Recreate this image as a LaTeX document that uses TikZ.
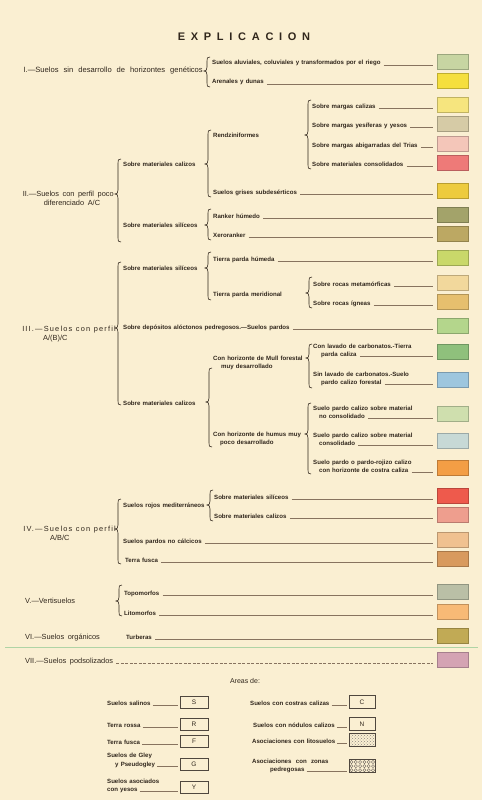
\documentclass[tikz,border=0pt]{standalone}
\usepackage{fontspec}
\setmainfont{Liberation Sans}
\newfontfamily\titlefam{Liberation Sans}[LetterSpace=52]
\newfontfamily\spacedfam{Liberation Sans}[LetterSpace=16]
\usetikzlibrary{calc,patterns}
\definecolor{bg}{RGB}{250,239,210}
\definecolor{ink}{RGB}{48,38,28}
\definecolor{ldrc}{RGB}{135,115,95}
\definecolor{c1}{HTML}{C7D5A2}
\definecolor{c2}{HTML}{F5DF3E}
\definecolor{c3}{HTML}{F6E57E}
\definecolor{c4}{HTML}{D6CBA6}
\definecolor{c5}{HTML}{F4C6B9}
\definecolor{c6}{HTML}{EE7A78}
\definecolor{c7}{HTML}{EDCB3E}
\definecolor{c8}{HTML}{A3A36A}
\definecolor{c9}{HTML}{BCA863}
\definecolor{c10}{HTML}{C9D86A}
\definecolor{c11}{HTML}{F2D89C}
\definecolor{c12}{HTML}{E6BF6E}
\definecolor{c13}{HTML}{B4D68C}
\definecolor{c14}{HTML}{8FC07C}
\definecolor{c15}{HTML}{9DC6DE}
\definecolor{c16}{HTML}{CFDFAE}
\definecolor{c17}{HTML}{C7D9D6}
\definecolor{c18}{HTML}{F39E45}
\definecolor{c19}{HTML}{EE5A4C}
\definecolor{c20}{HTML}{EE9E8E}
\definecolor{c21}{HTML}{F0C190}
\definecolor{c22}{HTML}{D89A5E}
\definecolor{c23}{HTML}{BABFA6}
\definecolor{c24}{HTML}{F8BA76}
\definecolor{c25}{HTML}{C1AA55}
\definecolor{c26}{HTML}{D4A3B3}
\definecolor{fold}{RGB}{175,212,165}
\newcommand{\itemfont}{\fontsize{6.1}{7}\bfseries\selectfont\spaceskip=2.2pt plus 0.5pt\relax}
\newcommand{\secfont}{\fontsize{7.4}{8.5}\selectfont\spaceskip=3.6pt plus 1pt\relax}
\newcommand{\widefont}{\fontsize{7.6}{8.5}\selectfont\spaceskip=5pt plus 1pt\relax}
\newcommand{\spfont}{\spacedfam\fontsize{7.4}{8.5}\selectfont\spaceskip=3.6pt plus 1pt\relax}
% brace: x, top, tip, bottom
\newcommand{\brc}[4]{\draw[bracestyle] (#1+3,#2) .. controls (#1,#2) and (#1,#2+1) .. (#1,#2+4) -- (#1,#3-4) .. controls (#1,#3-1) and (#1-1,#3) .. (#1-3,#3) .. controls (#1-1,#3) and (#1,#3+1) .. (#1,#3+4) -- (#1,#4-4) .. controls (#1,#4-1) and (#1,#4) .. (#1+3,#4);}
\newcommand{\ldr}[2]{\draw[ldrline] ([xshift=3pt]#1.base east) -- ($(#2.west |- #1.base)+(-3.5pt,0)$);}
\newcommand{\ldrb}[2]{\draw[ldrline] ([xshift=2pt]#1.base east) -- ($(#2.west |- #1.base)+(-2pt,0)$);}
\begin{document}
\begin{tikzpicture}[x=1pt,y=-1pt,
  it/.style={anchor=base west, inner sep=0pt, font=\itemfont, text=ink},
  sec/.style={anchor=base west, inner sep=0pt, font=\secfont, text=ink},
  spc/.style={anchor=base west, inner sep=0pt, font=\spfont, text=ink},
  sw/.style={fill=#1, draw=#1!78!black, line width=0.4pt, minimum width=31pt, minimum height=15pt, inner sep=0pt},
  ldrline/.style={draw=ldrc, line width=0.35pt},
  bracestyle/.style={draw=ink, line width=0.6pt},
  lbox/.style={draw=ink!85, line width=0.5pt, minimum width=28pt, minimum height=12pt, inner sep=0pt, font=\fontsize{6.5}{7}\selectfont, text=ink},
  rbox/.style={draw=ink!85, line width=0.5pt, minimum width=26pt, minimum height=13pt, inner sep=0pt, font=\fontsize{6.5}{7}\selectfont, text=ink}]
\fill[bg] (0,0) rectangle (482,800);
\useasboundingbox (0,0) rectangle (482,800);

% title
\node[anchor=base, inner sep=0pt, font=\titlefam\bfseries\fontsize{11}{12}\selectfont, text=ink] (title) at (244,41) {EXPLICACION};

% ---------- I
\node[sec, font=\widefont, anchor=base east] (l1) at (203,73) {I.—Suelos sin desarrollo de horizontes genéticos};
\brc{207}{57}{71}{87}
\node[it] (i1a) at (212,65) {Suelos aluviales, coluviales y transformados por el riego};
\node[it] (i1b) at (212,84) {Arenales y dunas};
\node[sw=c1] (s1) at (452.5,62) {};
\node[sw=c2] (s2) at (452.5,81) {};
\ldr{i1a}{s1}
\ldr{i1b}{s2}

% ---------- II
\node[sec, anchor=base east] (l2a) at (114,196) {II.—Suelos con perfil poco};
\node[sec, anchor=base] (l2b) at (72,205) {diferenciado A/C};
\brc{118}{159}{194}{242}
\node[it] (c2a) at (123,166.5) {Sobre materiales calizos};
\node[it] (c2b) at (123,227.5) {Sobre materiales silíceos};
\brc{208}{130}{164}{197}
\node[it] (r2) at (213,137) {Rendziniformes};
\node[it] (g2) at (213,194) {Suelos grises subdesérticos};
\brc{308}{100}{135}{169}
\node[it] (i2a) at (312,108) {Sobre margas calizas};
\node[it] (i2b) at (312,127) {Sobre margas yesíferas y yesos};
\node[it] (i2c) at (312,147) {Sobre margas abigarradas del Trias};
\node[it] (i2d) at (312,166) {Sobre materiales consolidados};
\brc{208}{209}{225}{240}
\node[it] (k2a) at (213,218) {Ranker húmedo};
\node[it] (k2b) at (213,237) {Xeroranker};
\node[sw=c3] (s3) at (452.5,105) {};
\node[sw=c4] (s4) at (452.5,124) {};
\node[sw=c5] (s5) at (452.5,144) {};
\node[sw=c6] (s6) at (452.5,163) {};
\node[sw=c7] (s7) at (452.5,191) {};
\node[sw=c8] (s8) at (452.5,215) {};
\node[sw=c9] (s9) at (452.5,234) {};
\ldr{i2a}{s3}
\ldr{i2b}{s4}
\ldr{i2c}{s5}
\ldr{i2d}{s6}
\ldr{g2}{s7}
\ldr{k2a}{s8}
\ldr{k2b}{s9}

% ---------- III
\node[spc, anchor=base east] (l3a) at (116,331) {III.—Suelos con perfil};
\node[sec] (l3b) at (43,340) {A/(B)/C};
\brc{118}{262}{328}{405}
\node[it] (c3a) at (123,270) {Sobre materiales silíceos};
\brc{208}{252}{268}{300}
\node[it] (t3a) at (213,261) {Tierra parda húmeda};
\node[it] (t3b) at (213,296) {Tierra parda meridional};
\brc{309}{277}{293}{308}
\node[it] (m3a) at (313,286) {Sobre rocas metamórficas};
\node[it] (m3b) at (313,305) {Sobre rocas ígneas};
\node[it] (d3) at (123,329) {Sobre depósitos alóctonos pedregosos.—Suelos pardos};
\node[it] (c3b) at (123,405) {Sobre materiales calizos};
\brc{209}{368}{402}{447}
\node[it] (h3a) at (213,360) {Con horizonte de Mull forestal};
\node[it] (h3b) at (221,368) {muy desarrollado};
\brc{309}{344}{358}{388}
\node[it] (v3a) at (313,348) {Con lavado de carbonatos.-Tierra};
\node[it] (v3b) at (321,356) {parda caliza};
\node[it] (w3a) at (313,376) {Sin lavado de carbonatos.-Suelo};
\node[it] (w3b) at (321,384) {pardo calizo forestal};
\node[it] (h3c) at (213,436) {Con horizonte de humus muy};
\node[it] (h3d) at (220,444) {poco desarrollado};
\brc{308}{403}{434}{474}
\node[it] (p3a) at (313,410) {Suelo pardo calizo sobre material};
\node[it] (p3b) at (319,418) {no consolidado};
\node[it] (q3a) at (313,437) {Suelo pardo calizo sobre material};
\node[it] (q3b) at (319,445) {consolidado};
\node[it] (u3a) at (313,464) {Suelo pardo o pardo-rojizo calizo};
\node[it] (u3b) at (319,472) {con horizonte de costra caliza};
\node[sw=c10] (s10) at (452.5,258) {};
\node[sw=c11] (s11) at (452.5,283) {};
\node[sw=c12] (s12) at (452.5,302) {};
\node[sw=c13] (s13) at (452.5,326) {};
\node[sw=c14] (s14) at (452.5,352) {};
\node[sw=c15] (s15) at (452.5,380) {};
\node[sw=c16] (s16) at (452.5,414) {};
\node[sw=c17] (s17) at (452.5,441) {};
\node[sw=c18] (s18) at (452.5,468) {};
\ldr{t3a}{s10}
\ldr{m3a}{s11}
\ldr{m3b}{s12}
\ldr{d3}{s13}
\ldr{v3b}{s14}
\ldr{w3b}{s15}
\ldr{p3b}{s16}
\ldr{q3b}{s17}
\ldr{u3b}{s18}

% ---------- IV
\node[spc, anchor=base east] (l4a) at (116,531) {IV.—Suelos con perfil};
\node[sec] (l4b) at (50,540) {A/B/C};
\brc{118}{499}{529}{564}
\node[it] (r4) at (123,507) {Suelos rojos mediterráneos};
\brc{210}{490}{505}{521}
\node[it] (r4a) at (214,499) {Sobre materiales silíceos};
\node[it] (r4b) at (214,518) {Sobre materiales calizos};
\node[it] (n4) at (123,543) {Suelos pardos no cálcicos};
\node[it] (f4) at (125,562) {Terra fusca};
\node[sw=c19] (s19) at (452.5,496) {};
\node[sw=c20] (s20) at (452.5,515) {};
\node[sw=c21] (s21) at (452.5,540) {};
\node[sw=c22] (s22) at (452.5,559) {};
\ldr{r4a}{s19}
\ldr{r4b}{s20}
\ldr{n4}{s21}
\ldr{f4}{s22}

% ---------- V, VI, VII
\node[sec] (l5) at (25,603) {V.—Vertisuelos};
\brc{119}{585}{601}{616}
\node[it] (v5a) at (124,595) {Topomorfos};
\node[it] (v5b) at (124,615) {Litomorfos};
\node[sec] (l6) at (25,639) {VI.—Suelos orgánicos};
\node[it] (t6) at (126,639) {Turberas};
\node[sec] (l7) at (25,663) {VII.—Suelos podsolizados};
\node[sw=c23] (s23) at (452.5,592) {};
\node[sw=c24] (s24) at (452.5,612) {};
\node[sw=c25] (s25) at (452.5,636) {};
\node[sw=c26] (s26) at (452.5,660) {};
\ldr{v5a}{s23}
\ldr{v5b}{s24}
\ldr{t6}{s25}
\draw[ldrline, dash pattern=on 3pt off 1.5pt] ([xshift=3pt]l7.base east) -- ($(s26.west |- l7.base)+(-3.5pt,0)$);
\draw[fold, line width=0.6pt] (5,647) -- (478,647);

% ---------- Areas de
\node[anchor=base, inner sep=0pt, font=\fontsize{7}{8}\selectfont, text=ink] (areas) at (245,683) {Areas de:};
\node[lbox] (bS) at (194,702) {S};
\node[lbox] (bR) at (194,724) {R};
\node[lbox] (bF) at (194,741) {F};
\node[lbox] (bG) at (194,764) {G};
\node[lbox] (bY) at (194,787) {Y};
\node[it] (aS) at (107,705) {Suelos salinos};
\node[it] (aR) at (107,727) {Terra rossa};
\node[it] (aF) at (107,744) {Terra fusca};
\node[it] (aG1) at (107,757) {Suelos de Gley};
\node[it] (aG2) at (115,766) {y Pseudogley};
\node[it] (aY1) at (107,783) {Suelos asociados};
\node[it] (aY2) at (107,791) {con yesos};
\ldrb{aS}{bS}
\ldrb{aR}{bR}
\ldrb{aF}{bF}
\ldrb{aG2}{bG}
\ldrb{aY2}{bY}
\node[rbox] (bC) at (362,702) {C};
\node[rbox] (bN) at (362,724) {N};
\node[rbox, pattern=crosshatch dots, pattern color=ink!55] (bL) at (362,740) {};
\node[rbox] (bP) at (362,766) {};
\begin{scope}
\clip (bP.south west) rectangle (bP.north east);
\foreach \i in {0,...,5}{\foreach \j in {0,1,2}{
  \draw[ink!75, line width=0.35pt] (351.5+\i*4.3,762+\j*4.1) circle (1.6pt);}}
\end{scope}
\node[it] (aC) at (250,705) {Suelos con costras calizas};
\node[it] (aN) at (253,727) {Suelos con nódulos calizos};
\node[it] (aL) at (252,743) {Asociaciones con litosuelos};
\node[it] (aP1) at (252,763) {Asociaciones\ \ con\ \ zonas};
\node[it] (aP2) at (270,771) {pedregosas};
\ldrb{aC}{bC}
\ldrb{aN}{bN}
\ldrb{aL}{bL}
\ldrb{aP2}{bP}
\end{tikzpicture}
\end{document}
